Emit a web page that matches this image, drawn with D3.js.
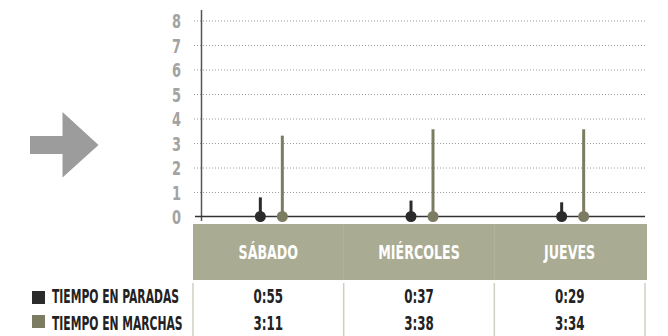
<!DOCTYPE html>
<html>
<head>
<meta charset="utf-8">
<script src="https://cdn.jsdelivr.net/npm/d3@7"></script>
<style>
  body { margin: 0; background: #fff; }
  svg { display: block; }
  .cond { font-family: "DejaVu Sans Condensed", "DejaVu Sans", sans-serif; font-weight: bold; font-stretch: condensed; }
</style>
</head>
<body>
<div id="chart"></div>
<script>
// days shown in the table
const days = ["SÁBADO", "MIÉRCOLES", "JUEVES"];
// stick heights (hours)
const paradas = [0.78, 0.65, 0.58];
const marchas = [3.3, 3.56, 3.56];
// table text
const paradasLabels = ["0:55", "0:37", "0:29"];
const marchasLabels = ["3:11", "3:38", "3:34"];
const yTicks = [0, 1, 2, 3, 4, 5, 6, 7, 8];
const legendNames = ["TIEMPO EN PARADAS", "TIEMPO EN MARCHAS"];

const w = 668;
const h = 336;
const dark = "#2b2b2b";
const olive = "#7b7c62";
const header = "#a9ab92";

const svg = d3.select("#chart").append("svg").attr("width", w).attr("height", h);

// squeeze text horizontally to get the narrow poster look
function narrowText(sel, cx, cy, sx, size, anchor) {
  return sel
    .attr("class", "cond")
    .attr("transform", (d, i) => `translate(${cx(d, i)},${cy(d, i)}) scale(${sx},1)`)
    .attr("font-size", size)
    .attr("text-anchor", anchor);
}

// scales
const x = d3.scaleBand().domain(days).range([193, 645]);
const y = d3.scaleLinear().domain([0, 8]).range([216.5, 20.5]);

// grid + tick labels
const yAxis = d3.axisLeft(y).tickValues(yTicks).tickSize(-(647 - 194)).tickPadding(12);
const gy = svg.append("g").attr("transform", "translate(194,0)").call(yAxis);
gy.select(".domain").remove();
gy.selectAll(".tick line")
  .attr("stroke", "#9a9a9a")
  .attr("stroke-width", 1)
  .attr("stroke-dasharray", "1,2");
gy.selectAll(".tick text")
  .attr("class", "cond")
  .attr("fill", "#a3a3a3")
  .attr("font-size", 20)
  .attr("x", -13 / 0.72)
  .attr("transform", "scale(0.72,1)")
  .attr("dy", "0.36em");
gy.selectAll(".tick").filter((d) => d === 0).select("line").remove();

// vertical axis line
svg.append("line")
  .attr("x1", 201.5).attr("x2", 201.5)
  .attr("y1", 10).attr("y2", 221)
  .attr("stroke", "#555").attr("stroke-width", 1.5);

// baseline
svg.append("line")
  .attr("x1", 195).attr("x2", 645)
  .attr("y1", y(0)).attr("y2", y(0))
  .attr("stroke", "#333").attr("stroke-width", 1.5);

// lollipops
const series = [
  { values: paradas, color: dark, off: -8 },
  { values: marchas, color: olive, off: 14 },
];
series.forEach((s) => {
  const g = svg.append("g");
  g.selectAll("line")
    .data(days)
    .enter()
    .append("line")
    .attr("x1", (d) => x(d) + x.bandwidth() / 2 + s.off)
    .attr("x2", (d) => x(d) + x.bandwidth() / 2 + s.off)
    .attr("y1", y(0))
    .attr("y2", (d, i) => y(s.values[i]))
    .attr("stroke", s.color)
    .attr("stroke-width", 3);
  g.selectAll("circle")
    .data(days)
    .enter()
    .append("circle")
    .attr("cx", (d) => x(d) + x.bandwidth() / 2 + s.off)
    .attr("cy", y(0))
    .attr("r", 5.5)
    .attr("fill", s.color);
});

// table header
svg.append("rect")
  .attr("x", 193).attr("y", 224)
  .attr("width", 647 - 193).attr("height", 56)
  .attr("fill", header);
svg.selectAll(".hdiv")
  .data(days.slice(1))
  .enter()
  .append("line")
  .attr("x1", (d) => x(d)).attr("x2", (d) => x(d))
  .attr("y1", 224).attr("y2", 280)
  .attr("stroke", "#b2b49d").attr("stroke-width", 1);
narrowText(
  svg.selectAll(".hdr").data(days).enter().append("text"),
  (d) => x(d) + x.bandwidth() / 2,
  () => 259,
  0.74, 19, "middle"
)
  .attr("fill", "#fff")
  .text((d) => d);

// table body dividers
svg.selectAll(".bdiv")
  .data(days.concat(["end"]))
  .enter()
  .append("line")
  .attr("x1", (d) => (d === "end" ? 645 : x(d)))
  .attr("x2", (d) => (d === "end" ? 645 : x(d)))
  .attr("y1", 283).attr("y2", 336)
  .attr("stroke", "#cfcfc2").attr("stroke-width", 1.5);

// table values
[paradasLabels, marchasLabels].forEach((labels, r) => {
  narrowText(
    svg.selectAll(".val" + r).data(days).enter().append("text"),
    (d) => x(d) + x.bandwidth() / 2,
    () => 303 + r * 27,
    0.66, 20, "middle"
  )
    .attr("fill", "#222")
    .text((d, i) => labels[i]);
});

// legend
legendNames.forEach((name, i) => {
  svg.append("rect")
    .attr("x", 32).attr("y", 291 + i * 24)
    .attr("width", 13).attr("height", 13)
    .attr("fill", i === 0 ? dark : olive);
  narrowText(svg.append("text"), () => 52, () => 303 + i * 27, 0.63, 19, "start")
    .attr("fill", "#222")
    .text(name);
});

// arrow
svg.append("path")
  .attr("d", "M30,136 L62.5,136 L62.5,112 L98.5,145 L62.5,177.5 L62.5,154 L30,154 Z")
  .attr("fill", "#9b9c9b");
</script>
</body>
</html>
